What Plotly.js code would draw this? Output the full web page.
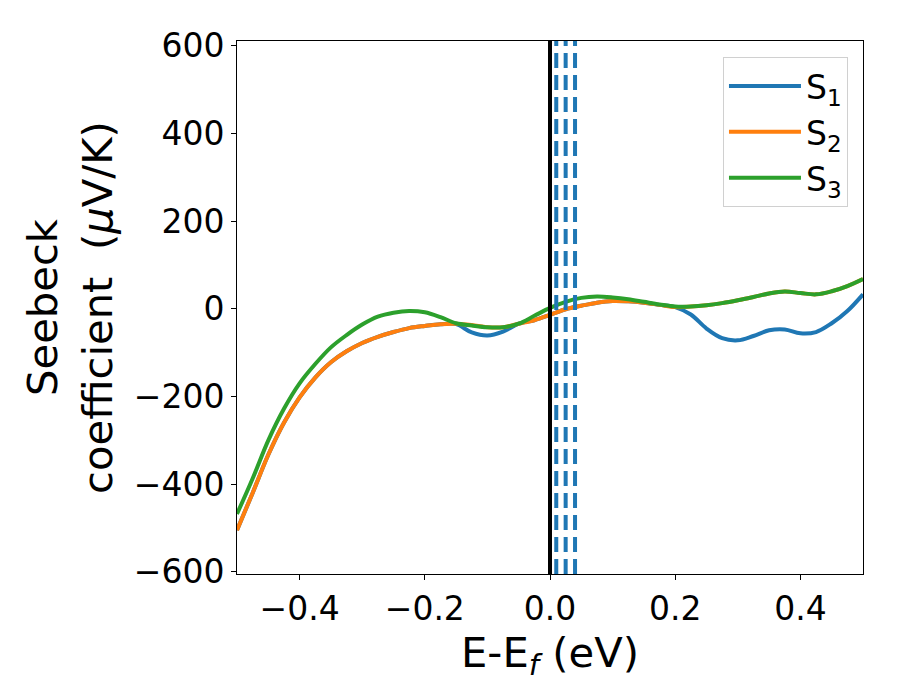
<!DOCTYPE html>
<html>
<head>
<meta charset="utf-8">
<script src="https://cdn.plot.ly/plotly-3.0.1.min.js"></script>
<style>
  html, body { margin: 0; padding: 0; background: #ffffff; }
  #chart { width: 900px; height: 700px; }
</style>
</head>
<body>
<div id="chart"></div>
<script>
// Energy relative to the Fermi level (eV)
const energy = [
  -0.500, -0.475, -0.450, -0.425, -0.400, -0.375, -0.350, -0.325, -0.300, -0.275,
  -0.250, -0.225, -0.200, -0.175, -0.150, -0.125, -0.100, -0.075, -0.050, -0.025,
   0.000,  0.025,  0.050,  0.075,  0.100,  0.125,  0.150,  0.175,  0.200,  0.225,
   0.250,  0.275,  0.300,  0.325,  0.350,  0.375,  0.400,  0.425,  0.450,  0.475,
   0.500
];

// Seebeck coefficient (µV/K)
const S1 = [
  -505, -420, -333, -260, -202, -157, -122, -97, -78, -64,
  -53, -44, -39, -35, -35, -54, -61, -52, -34, -26,
  -14, -1, 7, 14, 18, 17, 14, 9, 4, -13,
  -45, -67, -72, -62, -49, -47, -56, -53, -33, -5,
  33
];
const S2 = [
  -505, -420, -333, -260, -202, -157, -122, -97, -78, -64,
  -53, -44, -39, -35, -34, -37, -42, -42, -34, -26,
  -14, -1, 7, 14, 18, 17, 14, 9, 4, 5,
  8, 13, 19.5, 27, 35, 39.5, 36, 33, 40, 52,
  68
];
const S3 = [
  -468, -387, -300, -228, -170, -126, -88, -60, -36, -18,
  -9, -5, -8, -19, -33, -38, -42, -42, -34, -16,
  2, 16, 25, 28, 26, 22, 16, 10, 5, 5,
  8, 13, 19.5, 27, 35, 39.5, 36, 33, 40, 52,
  68
];

const seriesNames = ['S<sub>1</sub>', 'S<sub>2</sub>', 'S<sub>3</sub>'];
const seriesColors = ['#1f77b4', '#ff7f0e', '#2ca02c'];

// Vertical reference lines (eV)
const fermiLine = [0.0];
const dashedLines = [0.01, 0.025, 0.04];

const xTicks = [-0.4, -0.2, 0.0, 0.2, 0.4];
const yTicks = [-600, -400, -200, 0, 200, 400, 600];
const xRange = [-0.5, 0.5];
const yRange = [-605, 611];

const seriesValues = [S1, S2, S3];
const traces = seriesValues.map((vals, i) => ({
  x: energy,
  y: vals,
  type: 'scatter',
  mode: 'lines',
  name: seriesNames[i],
  legendgroup: 'g' + i,
  line: { color: seriesColors[i], width: 4, shape: 'spline', smoothing: 1 }
}));

const shapes = [];
fermiLine.forEach(v => shapes.push({
  type: 'line', xref: 'x', yref: 'paper', x0: v, x1: v, y0: 0, y1: 1,
  line: { color: '#000000', width: 4 }
}));
dashedLines.forEach(v => shapes.push({
  type: 'line', xref: 'x', yref: 'paper', x0: v, x1: v, y0: 0, y1: 1,
  line: { color: '#1f77b4', width: 4, dash: '15px,7px' }
}));

const font = 'DejaVu Sans, sans-serif';

const layout = {
  width: 900,
  height: 700,
  paper_bgcolor: '#ffffff',
  plot_bgcolor: '#ffffff',
  margin: { l: 237, r: 37, t: 41, b: 126, pad: 0 },
  font: { family: font, color: '#000000', size: 33 },
  showlegend: true,
  legend: {
    x: 0.976, y: 0.97, xanchor: 'right', yanchor: 'top',
    bgcolor: 'rgba(255,255,255,0.8)',
    bordercolor: '#d0d0d0', borderwidth: 1,
    font: { family: font, size: 33, color: '#000000' },
    tracegroupgap: 0,
    itemwidth: 72
  },
  xaxis: {
    range: xRange,
    tickvals: xTicks,
    ticktext: xTicks.map(v => (v < 0 ? '\u2212' : '') + Math.abs(v).toFixed(1)),
    ticks: 'outside', ticklen: 5, tickwidth: 1, tickcolor: '#000000',
    showline: true, linecolor: '#000000', linewidth: 1, mirror: true,
    showgrid: false, zeroline: false,
    tickfont: { family: font, size: 33, color: '#000000' },
    title: {
      text: 'E-E<sub><i>f</i></sub> (eV)',
      font: { family: font, size: 41.7, color: '#000000' },
      standoff: 2
    }
  },
  yaxis: {
    range: yRange,
    tickvals: yTicks,
    ticktext: yTicks.map(v => (v < 0 ? '\u2212' : '') + Math.abs(v)),
    ticks: 'outside', ticklen: 5, tickwidth: 1, tickcolor: '#000000',
    showline: true, linecolor: '#000000', linewidth: 1, mirror: true,
    showgrid: false, zeroline: false,
    tickfont: { family: font, size: 33, color: '#000000' },
    title: {
      text: 'Seebeck<br>coefficient\u00a0\u00a0(<i>\u03bc</i>V/K)',
      font: { family: font, size: 41.7, color: '#000000' },
      standoff: 8
    }
  },
  shapes: shapes
};

Plotly.newPlot('chart', traces, layout, { displayModeBar: false, staticPlot: true });
</script>
</body>
</html>
